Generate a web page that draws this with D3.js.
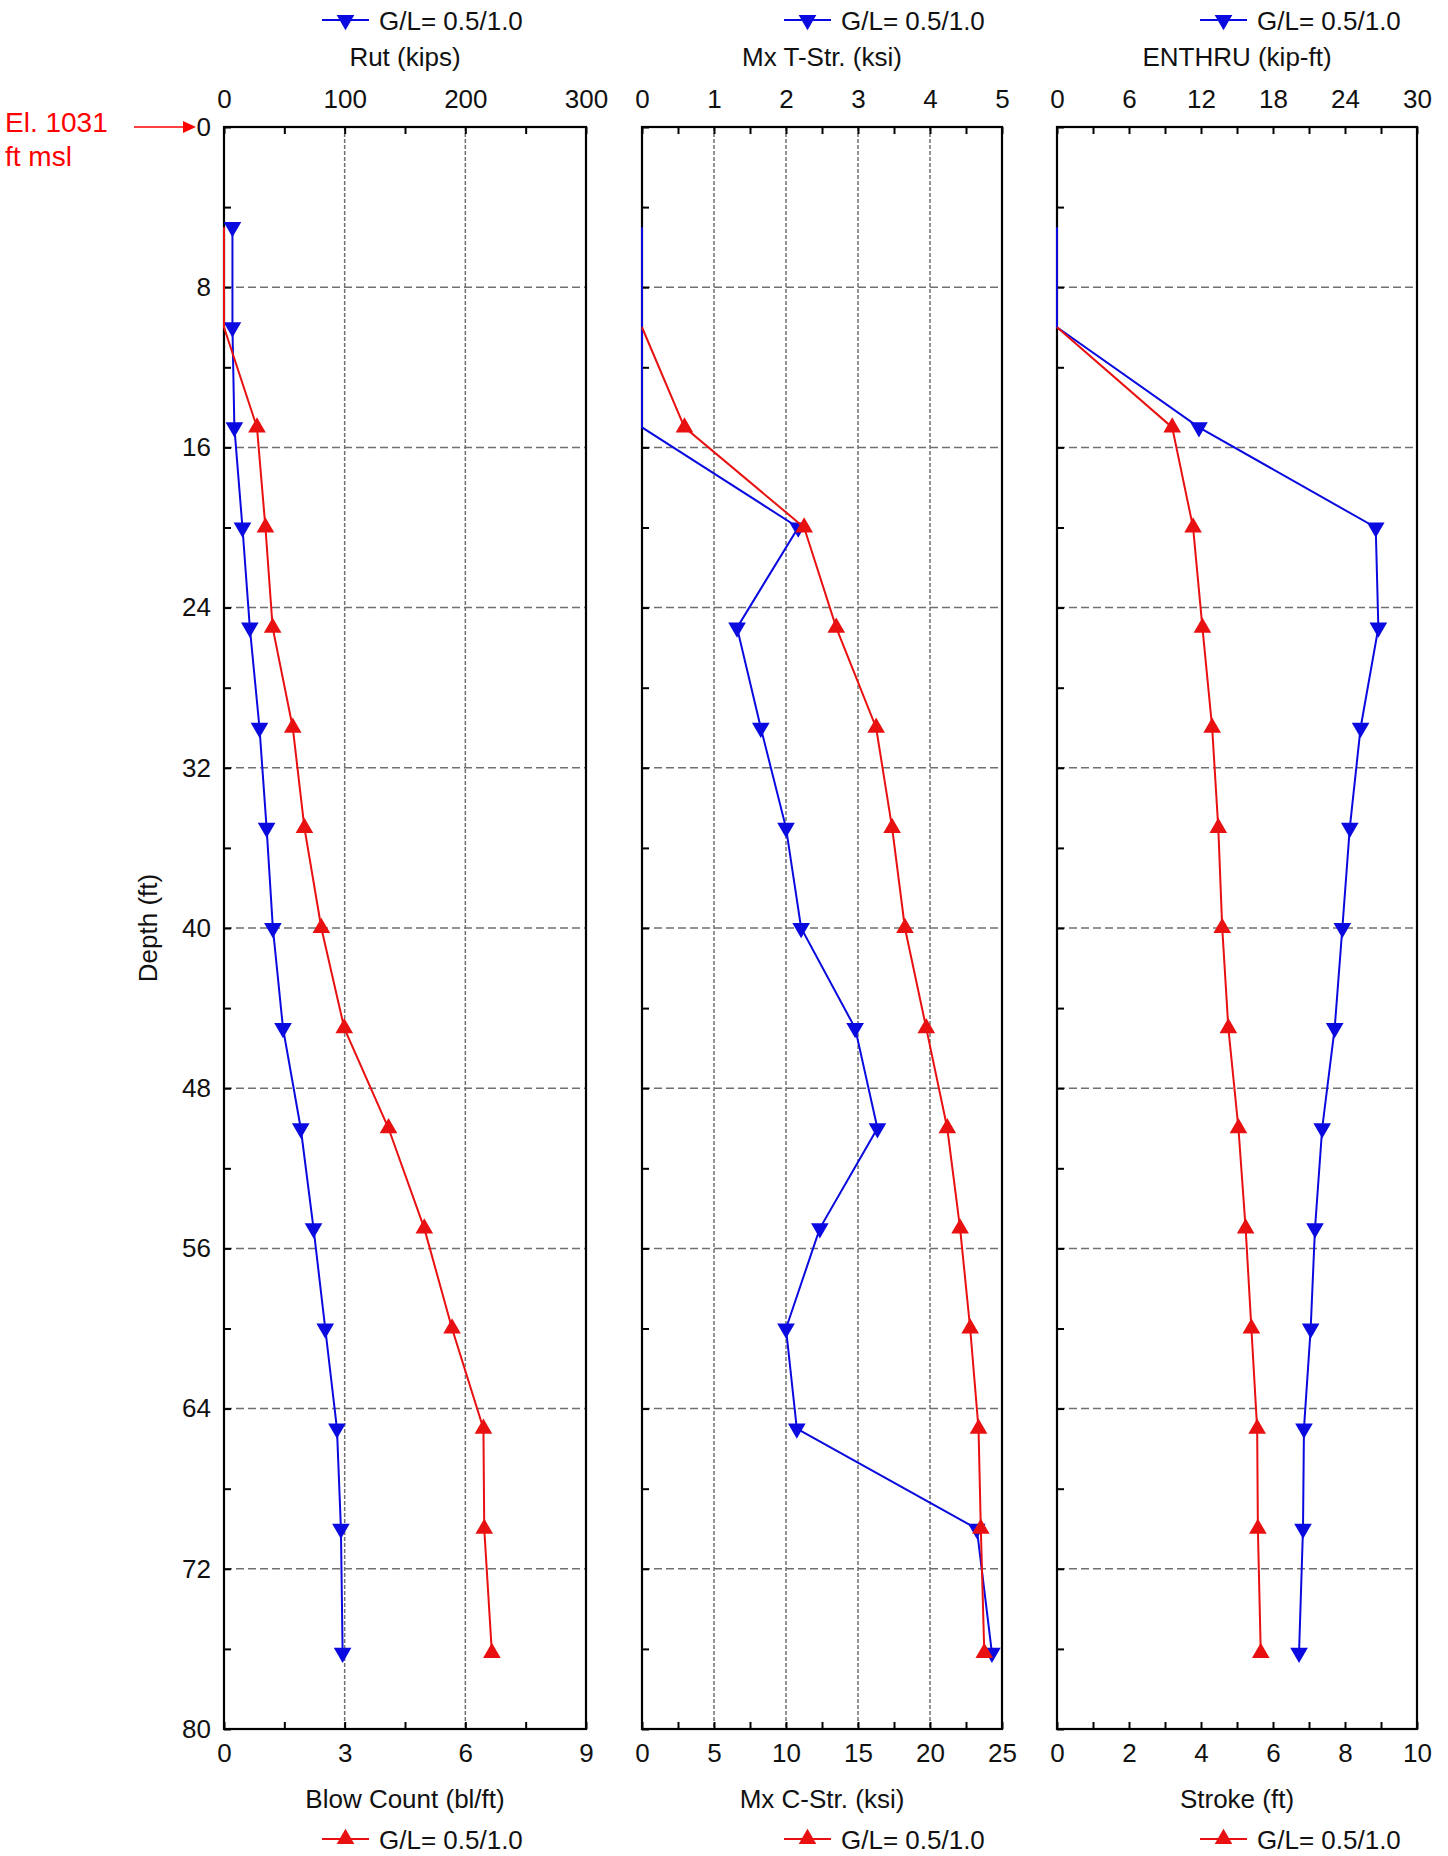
<!DOCTYPE html>
<html>
<head>
<meta charset="utf-8">
<script src="https://cdn.jsdelivr.net/npm/d3@7"></script>
<style>
  body { margin: 0; background: #fff; }
  svg text { font-family: "Liberation Sans", Arial, sans-serif; }
</style>
</head>
<body>
<svg width="1448" height="1856"></svg>

<script>

// depth of each reading (ft)
var depth     = [5, 10, 15, 20, 25, 30, 35, 40, 45, 50, 55, 60, 65, 70, 76.2];

// panel 1
var rut       = [7, 7, 8.6, 15.3, 21.4, 29.4, 35.3, 40.5, 48.9, 63.6, 74.2, 83.9, 93.6, 96.9, 98.3];
var blowCount = [0, 0, 0.82, 1.03, 1.21, 1.71, 2.0, 2.42, 2.99, 4.09, 4.98, 5.67, 6.45, 6.47, 6.66];

// panel 2
var tStr      = [0, 0, 0, 2.17, 1.32, 1.65, 2.0, 2.21, 2.96, 3.27, 2.47, 2.0, 2.15, 4.65, 4.86];
var cStr      = [null, 0, 2.95, 11.26, 13.49, 16.26, 17.37, 18.26, 19.74, 21.2, 22.09, 22.79, 23.37, 23.53, 23.77];

// panel 3
var enthru    = [0, 0, 11.83, 26.56, 26.78, 25.3, 24.4, 23.78, 23.14, 22.1, 21.5, 21.14, 20.58, 20.5, 20.17];
var stroke    = [null, 0, 3.2, 3.78, 4.04, 4.31, 4.48, 4.59, 4.76, 5.04, 5.24, 5.4, 5.56, 5.58, 5.66];

var legendLabel = "G/L= 0.5/1.0";

var panels = [
  {left: 224, right: 586, legendX: 322,
   top:    {title: "Rut (kips)",        max: 300, step: 50,  major: 100, values: rut},
   bottom: {title: "Blow Count (bl/ft)", max: 9,  step: 1.5, major: 3,   values: blowCount}},
  {left: 642, right: 1002, legendX: 784,
   top:    {title: "Mx T-Str. (ksi)",   max: 5,   step: 0.5, major: 1,   values: tStr},
   bottom: {title: "Mx C-Str. (ksi)",   max: 25,  step: 2.5, major: 5,   values: cStr}},
  {left: 1057, right: 1417, legendX: 1200,
   top:    {title: "ENTHRU (kip-ft)",   max: 30,  step: 3,   major: 6,   values: enthru},
   bottom: {title: "Stroke (ft)",       max: 10,  step: 1,   major: 2,   values: stroke}}
];

var blue = "#0a0ae0", red = "#e81010", grid = "#707070";
var fontSize = 26;

var svg = d3.select("svg");

var y = d3.scaleLinear().domain([0, 80]).range([127, 1729]);
var yTicks = d3.range(0, 81, 4);

var triUp = d3.symbol().type(d3.symbolTriangle).size(135);

function isMajor(d, major) {
  return Math.abs(d / major - Math.round(d / major)) < 1e-6;
}

panels.forEach(function(p, i) {
  var g = svg.append("g");
  var xTop = d3.scaleLinear().domain([0, p.top.max]).range([p.left, p.right]);
  var xBot = d3.scaleLinear().domain([0, p.bottom.max]).range([p.left, p.right]);

  // grid
  var vgrid = xTop.ticks(5).filter(function(d) { return isMajor(d, p.top.major) && d > 0 && d < p.top.max; });
  g.append("g").selectAll("line").data(vgrid).enter().append("line")
      .attr("x1", function(d) { return xTop(d); }).attr("x2", function(d) { return xTop(d); })
      .attr("y1", y(0)).attr("y2", y(80))
      .attr("stroke", grid).attr("stroke-width", 1.5).attr("stroke-dasharray", "4,2");
  g.append("g").selectAll("line").data(d3.range(8, 80, 8)).enter().append("line")
      .attr("x1", p.left).attr("x2", p.right)
      .attr("y1", function(d) { return y(d); }).attr("y2", function(d) { return y(d); })
      .attr("stroke", grid).attr("stroke-width", 1.5).attr("stroke-dasharray", "8,4");

  // axes
  var topAxis = d3.axisTop(xTop)
      .tickValues(d3.range(0, p.top.max + 1e-9, p.top.step))
      .tickSize(-7).tickPadding(19)
      .tickFormat(function(d) { return isMajor(d, p.top.major) ? d3.format("d")(d) : ""; });
  var botAxis = d3.axisBottom(xBot)
      .tickValues(d3.range(0, p.bottom.max + 1e-9, p.bottom.step))
      .tickSize(-7).tickPadding(15)
      .tickFormat(function(d) { return isMajor(d, p.bottom.major) ? d3.format("d")(d) : ""; });
  var leftAxis = d3.axisLeft(y)
      .tickValues(yTicks)
      .tickSize(-7).tickPadding(13)
      .tickFormat(function(d) { return i === 0 && d % 8 === 0 ? d : ""; });

  [[topAxis, "translate(0," + y(0) + ")"],
   [botAxis, "translate(0," + y(80) + ")"],
   [leftAxis, "translate(" + p.left + ",0)"]].forEach(function(a) {
    var ag = g.append("g").attr("transform", a[1]).call(a[0]);
    ag.select(".domain").remove();
    ag.selectAll(".tick line").attr("stroke", "#000").attr("stroke-width", 2);
    ag.selectAll("text").attr("font-size", fontSize).attr("fill", "#111")
      .style("font-family", '"Liberation Sans", Arial, sans-serif');
  });

  // frame
  g.append("rect")
      .attr("x", p.left).attr("y", y(0))
      .attr("width", p.right - p.left).attr("height", y(80) - y(0))
      .attr("fill", "none").attr("stroke", "#000").attr("stroke-width", 2.2);

  // series
  function draw(values, x, color, down) {
    var line = d3.line()
        .defined(function(d) { return d.v != null; })
        .x(function(d) { return x(d.v); })
        .y(function(d) { return y(d.d); });
    var pts = depth.map(function(d, k) { return {d: d, v: values[k]}; });
    g.append("path").datum(pts)
        .attr("d", line).attr("fill", "none")
        .attr("stroke", color).attr("stroke-width", 2);
    g.append("g").selectAll("path")
        .data(pts.filter(function(d) { return d.v != null && d.v > 0; }))
        .enter().append("path")
        .attr("d", triUp)
        .attr("fill", color)
        .attr("transform", function(d) {
          return "translate(" + x(d.v) + "," + y(d.d) + ")" + (down ? " rotate(180)" : "");
        });
  }
  draw(p.top.values, xTop, blue, true);
  draw(p.bottom.values, xBot, red, false);

  // titles
  var cx = (p.left + p.right) / 2;
  g.append("text").attr("x", cx).attr("y", 66).attr("text-anchor", "middle")
      .attr("font-size", fontSize).attr("fill", "#111").text(p.top.title);
  g.append("text").attr("x", cx).attr("y", 1808).attr("text-anchor", "middle")
      .attr("font-size", fontSize).attr("fill", "#111").text(p.bottom.title);

  // legends
  [[20, blue, true], [1839, red, false]].forEach(function(l) {
    var lx = p.legendX;
    g.append("line").attr("x1", lx).attr("x2", lx + 47)
        .attr("y1", l[0]).attr("y2", l[0])
        .attr("stroke", l[1]).attr("stroke-width", 2);
    g.append("path").attr("d", triUp).attr("fill", l[1])
        .attr("transform", "translate(" + (lx + 23.5) + "," + l[0] + ")" + (l[2] ? " rotate(180)" : ""));
    g.append("text").attr("x", lx + 57).attr("y", l[0] + 9.5)
        .attr("font-size", fontSize).attr("fill", "#111").text(legendLabel);
  });
});

// depth title
svg.append("text")
    .attr("transform", "translate(157,928) rotate(-90)")
    .attr("text-anchor", "middle")
    .attr("font-size", fontSize).attr("fill", "#111")
    .text("Depth (ft)");

// elevation note
svg.append("text").attr("x", 5).attr("y", 132)
    .attr("font-size", 28).attr("fill", "#ff0000").text("El. 1031");
svg.append("text").attr("x", 5).attr("y", 166)
    .attr("font-size", 28).attr("fill", "#ff0000").text("ft msl");
svg.append("line").attr("x1", 134).attr("x2", 186).attr("y1", 127).attr("y2", 127)
    .attr("stroke", "#ff0000").attr("stroke-width", 1.5);
svg.append("path").attr("d", "M196,127L183,121L183,133Z").attr("fill", "#ff0000");

</script>
</body>
</html>
